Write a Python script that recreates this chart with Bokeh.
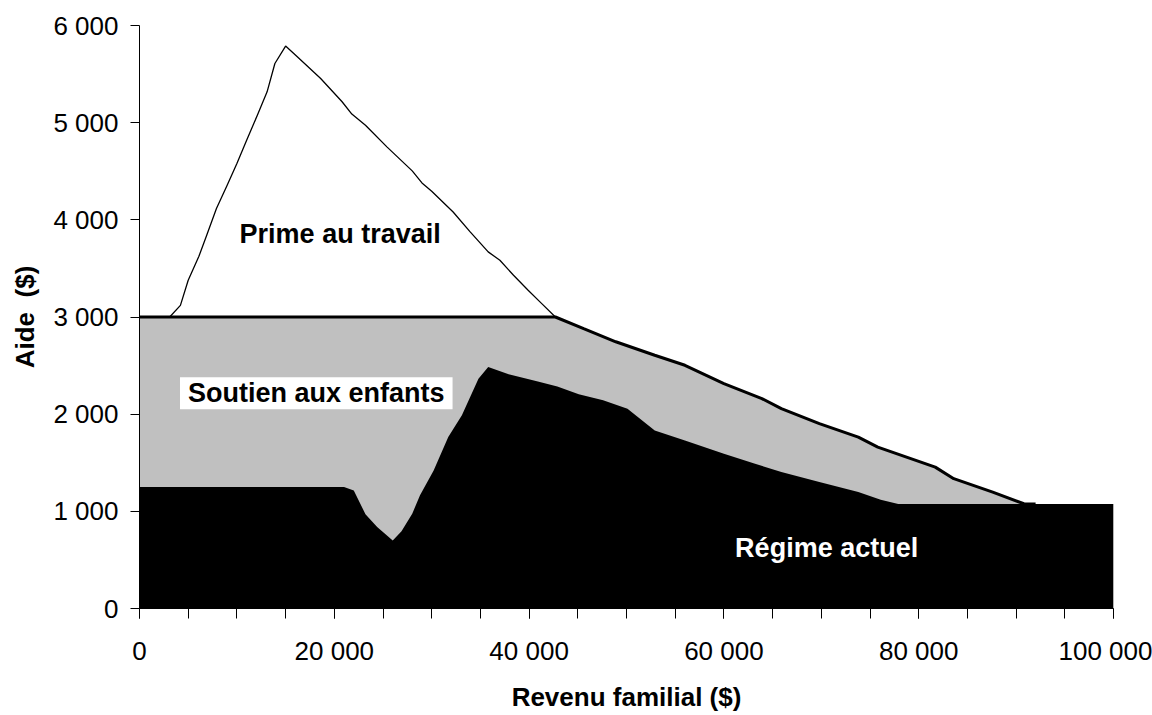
from bokeh.plotting import figure
from bokeh.models import Range1d, FixedTicker, Label
from bokeh.embed import file_html
from bokeh.resources import INLINE

# ---- data ----
# Régime actuel (bottom, black)
regime_x = [0, 21000, 22000, 23200, 24400, 26000, 26900, 28000, 28800, 30200,
            31700, 33100, 34800, 35800, 37900, 40800, 42900, 45100, 47600, 50100,
            52900, 56000, 60000, 63200, 65900, 69800, 73800, 76100, 77900, 100000]
regime_y = [1250, 1250, 1215, 970, 840, 700, 795, 975, 1165, 1420,
            1765, 1990, 2365, 2485, 2410, 2340, 2285, 2205, 2142, 2056,
            1833, 1730, 1593, 1490, 1404, 1301, 1198, 1119, 1075, 1075]

# Régime actuel + Soutien aux enfants (top of grey area)
soutien_x = [0, 42700, 45600, 48900, 52900, 56000, 60000, 63900, 65900, 69800,
             73800, 75800, 81700, 83600, 87600, 90800, 92000, 100000]
soutien_y = [3000, 3000, 2880, 2745, 2606, 2503, 2314, 2160, 2057, 1902,
             1764, 1661, 1455, 1336, 1198, 1078, 1075, 1075]

# Total with Prime au travail (top white area)
prime_x = [3100, 4200, 5000, 6100, 6900, 7900, 9000, 10000, 11000, 12100,
           13100, 13900, 15000, 16200, 18600, 20800, 21800, 23200, 25400, 28000,
           29000, 30000, 32200, 33950, 35800, 37000, 38400, 39900, 41300, 42700]
prime_y = [3000, 3120, 3378, 3625, 3841, 4116, 4356, 4580, 4820, 5077,
           5317, 5609, 5788, 5678, 5455, 5215, 5088, 4974, 4751, 4504,
           4380, 4295, 4081, 3876, 3670, 3584, 3430, 3275, 3138, 3000]

x_ticks = [0, 20000, 40000, 60000, 80000, 100000]
x_tick_labels = ["0", "20 000", "40 000", "60 000", "80 000", "100 000"]
x_minor = list(range(0, 100001, 5000))
y_ticks = [0, 1000, 2000, 3000, 4000, 5000, 6000]
y_tick_labels = ["0", "1 000", "2 000", "3 000", "4 000", "5 000", "6 000"]

FONT = "Liberation Sans"

p = figure(width=1152, height=715, frame_width=974, frame_height=583,
           x_range=Range1d(0, 100000), y_range=Range1d(0, 6000),
           output_backend="svg", toolbar_location=None,
           min_border_left=139, min_border_right=39,
           min_border_top=25, min_border_bottom=107)
p.outline_line_color = None
p.xgrid.visible = False
p.ygrid.visible = False
p.background_fill_color = "white"
p.border_fill_color = "white"

# areas
p.varea(x=soutien_x, y1=0, y2=soutien_y, fill_color="#C0C0C0")
p.varea(x=regime_x, y1=0, y2=regime_y, fill_color="black")

# border lines
n_line = soutien_x.index(92000) + 1
p.line(x=soutien_x[:n_line], y=soutien_y[:n_line], line_color="black", line_width=3)
p.line(x=prime_x, y=prime_y, line_color="black", line_width=1.3)

# axes
xa = p.xaxis[0]
xa.ticker = FixedTicker(ticks=x_ticks, minor_ticks=x_minor)
xa.major_label_overrides = {t: l for t, l in zip(x_ticks, x_tick_labels)}
xa.major_tick_in = 0
xa.major_tick_out = 10
xa.minor_tick_in = 0
xa.minor_tick_out = 10
xa.axis_line_color = "black"
xa.major_tick_line_color = "black"
xa.minor_tick_line_color = "black"
xa.major_label_text_font = FONT
xa.major_label_text_font_size = "26px"
xa.major_label_text_color = "black"
xa.major_label_standoff = 17
xa.axis_label = "Revenu familial ($)"
xa.axis_label_text_font = FONT
xa.axis_label_text_font_size = "26px"
xa.axis_label_text_font_style = "bold"
xa.axis_label_text_color = "black"
xa.axis_label_standoff = 13

ya = p.yaxis[0]
ya.ticker = FixedTicker(ticks=y_ticks, minor_ticks=[])
ya.major_label_overrides = {t: l for t, l in zip(y_ticks, y_tick_labels)}
ya.major_tick_in = 0
ya.major_tick_out = 9
ya.axis_line_color = "black"
ya.major_tick_line_color = "black"
ya.major_label_text_font = FONT
ya.major_label_text_font_size = "26px"
ya.major_label_text_color = "black"
ya.major_label_standoff = 12
ya.axis_label = "Aide\u00a0 ($)"
ya.axis_label_text_font = FONT
ya.axis_label_text_font_size = "26px"
ya.axis_label_text_font_style = "bold"
ya.axis_label_text_color = "black"
ya.axis_label_standoff = 10

# annotations
p.add_layout(Label(x=20600, y=3850, text="Prime au travail", text_align="center",
                   text_baseline="middle", text_font=FONT, text_font_size="27px",
                   text_font_style="bold", text_color="black"))
p.add_layout(Label(x=18150, y=2215, text="Soutien aux enfants", text_align="center",
                   text_baseline="middle", text_font=FONT, text_font_size="27px",
                   text_font_style="bold", text_color="black",
                   background_fill_color="white", padding=(8, 1)))
p.add_layout(Label(x=70550, y=625, text="Régime actuel", text_align="center",
                   text_baseline="middle", text_font=FONT, text_font_size="27px",
                   text_font_style="bold", text_color="white"))

open("out.html", "w").write(file_html(p, INLINE))
